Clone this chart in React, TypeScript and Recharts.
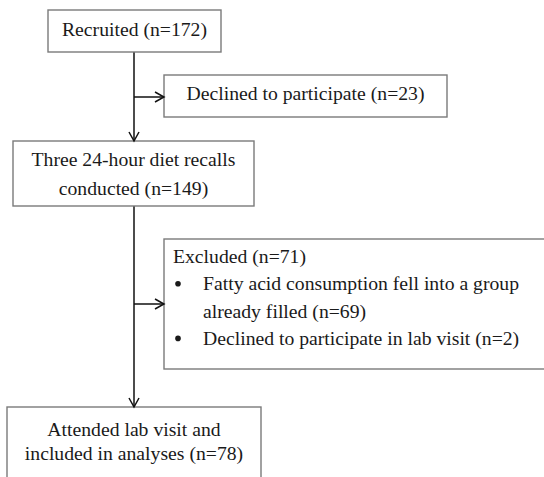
import React from 'react';
import { ScatterChart, Scatter, XAxis, YAxis, ReferenceLine } from 'recharts';

// flow stages: text lines per box (wrapped as in the figure)
const recruitedLines = ['Recruited (n=172)'];
const declinedLines = ['Declined to participate (n=23)'];
const recallLines = ['Three 24-hour diet recalls', 'conducted (n=149)'];
const excludedTitle = ['Excluded (n=71)'];
const excludedBullets = [
    ['Fatty acid consumption fell into a group', 'already filled (n=69)'],
    ['Declined to participate in lab visit (n=2)'],
];
const attendedLines = ['Attended lab visit and', 'included in analyses (n=78)'];

const W = 544;
const H = 477;
const FONT = '"Liberation Serif", "Times New Roman", serif';
const FS = 19.7;

// box layout in chart units (1 unit = 1px)
const boxes = [
    { x: 48, y: 10, w: 173, h: 42, lines: recruitedLines, first: 26, lh: 29 },
    { x: 164, y: 75, w: 283, h: 42, lines: declinedLines, first: 25, lh: 29 },
    { x: 13, y: 141, w: 241, h: 65, lines: recallLines, first: 25, lh: 29 },
    { x: 164, y: 239, w: 390, h: 130, lines: [], first: 24, lh: 27.3, list: true },
    { x: 7, y: 407, w: 254, h: 80, lines: attendedLines, first: 29, lh: 24 },
];

// connectors
const trunkX = 134;
const segments = [
    [{ x: trunkX, y: 52 }, { x: trunkX, y: 141 }],
    [{ x: trunkX, y: 97 }, { x: 164, y: 97 }],
    [{ x: trunkX, y: 206 }, { x: trunkX, y: 407 }],
    [{ x: trunkX, y: 304 }, { x: 164, y: 304 }],
];
const arrowTips = [
    { x: trunkX, y: 141, dir: 'down' },
    { x: 164, y: 97, dir: 'right' },
    { x: trunkX, y: 407, dir: 'down' },
    { x: 164, y: 304, dir: 'right' },
];

const BoxShape = (props: any) => {
    const { cx, cy, payload } = props;
    const b = payload;
    const left = cx;
    const top = cy;
    const textProps = { fontFamily: FONT, fontSize: FS, fill: '#1a1a1a' };

    let content: React.ReactNode;
    if (b.list) {
        let row = 0;
        const items: React.ReactNode[] = [];
        excludedTitle.forEach((t, i) => {
            items.push(
                <text key={'t' + i} x={left + 9} y={top + b.first + row * b.lh} {...textProps}>{t}</text>
            );
            row++;
        });
        excludedBullets.forEach((bl, bi) => {
            items.push(
                <circle key={'b' + bi} cx={left + 14} cy={top + b.first + row * b.lh - 6.5} r={2.8} fill="#1a1a1a" />
            );
            bl.forEach((ln, li) => {
                items.push(
                    <text key={'l' + bi + li} x={left + 39} y={top + b.first + row * b.lh} {...textProps}>{ln}</text>
                );
                row++;
            });
        });
        content = items;
    } else {
        content = b.lines.map((ln: string, i: number) => (
            <text key={i} x={left + b.w / 2} y={top + b.first + i * b.lh} textAnchor="middle" {...textProps}>{ln}</text>
        ));
    }

    return (
        <g>
            <rect x={left} y={top} width={b.w} height={b.h} fill="#fff" stroke="#7a7a7a" strokeWidth={1.4} />
            {content}
        </g>
    );
};

const ArrowShape = (props: any) => {
    const { cx, cy, payload } = props;
    const len = 9;
    const half = 5;
    const pts = payload.dir === 'down'
        ? `${cx - half},${cy - len} ${cx},${cy} ${cx + half},${cy - len}`
        : `${cx - len},${cy - half} ${cx},${cy} ${cx - len},${cy + half}`;
    return <polyline points={pts} fill="none" stroke="#111" strokeWidth={1.5} />;
};

export default function App() {
    return (
        <div style={{ position: 'absolute', left: 0, top: 0, width: W, height: H, overflow: 'hidden', background: '#fff' }}>
            <ScatterChart width={W} height={H} margin={{ top: 0, right: 0, bottom: 0, left: 0 }}>
                <XAxis type="number" dataKey="x" domain={[0, W]} hide allowDataOverflow />
                <YAxis type="number" dataKey="y" domain={[0, H]} reversed hide allowDataOverflow />
                {segments.map((s, i) => (
                    <ReferenceLine key={i} segment={s} stroke="#111" strokeWidth={1.5} ifOverflow="visible" />
                ))}
                <Scatter data={boxes} shape={<BoxShape />} isAnimationActive={false} />
                <Scatter data={arrowTips} shape={<ArrowShape />} isAnimationActive={false} />
            </ScatterChart>
        </div>
    );
}
